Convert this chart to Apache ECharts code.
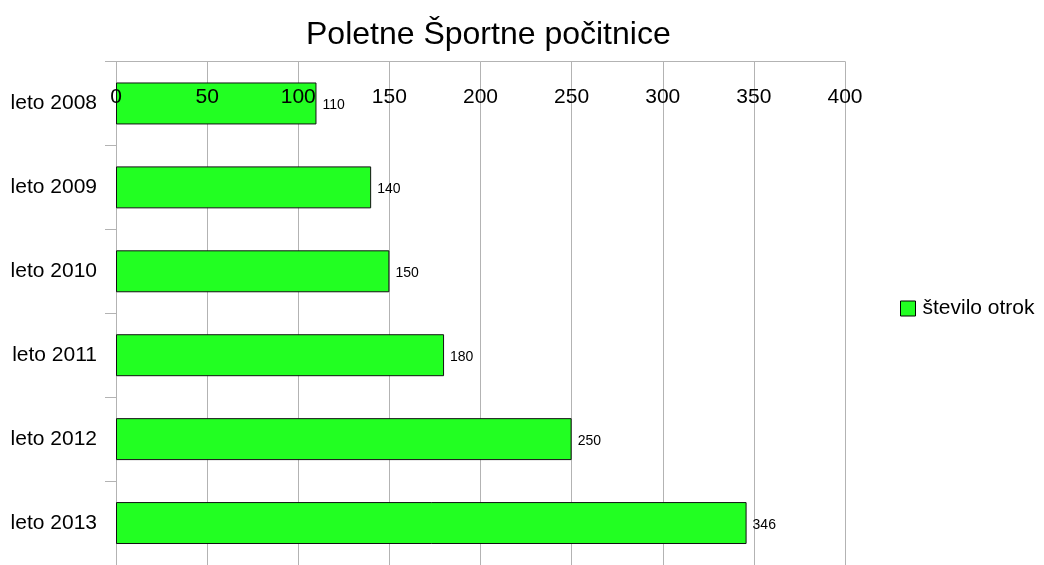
<!DOCTYPE html>
<html><head><meta charset="utf-8">
<script src="https://cdn.jsdelivr.net/npm/echarts@6/dist/echarts.min.js"></script>
<style>html,body{margin:0;padding:0;background:#fff}#c{width:1044px;height:565px}</style>
</head><body><div id="c"></div>
<script>
const categories = ['leto 2008','leto 2009','leto 2010','leto 2011','leto 2012','leto 2013'];
const values = [110, 140, 150, 180, 250, 346];
const seriesName = 'število otrok';
const titleText = 'Poletne Športne počitnice';

const FONT = '"Liberation Sans", Arial, sans-serif';
const chart = echarts.init(document.getElementById('c'), null, {renderer:'canvas'});
chart.setOption({
  backgroundColor: '#ffffff',
  animation: false,
  textStyle: { fontFamily: FONT },
  title: { text: titleText, left: 306, top: 19, padding: 0,
    textStyle: { fontSize: 32, fontWeight: 'normal', color: '#000', fontFamily: FONT } },
  legend: { orient: 'vertical', left: 900, top: 298, padding: 0, itemWidth: 15, itemHeight: 15, itemGap: 7,
    icon: 'rect', data: [seriesName],
    itemStyle: { borderColor: '#000', borderWidth: 1 },
    textStyle: { fontSize: 21, color: '#000', padding: [0,0,0,2], fontFamily: FONT } },
  grid: { left: 116, right: 199, top: 61.5, bottom: -4.5, containLabel: false },
  xAxis: [
    { type: 'value', position: 'top', min: 0, max: 400, interval: 50, z: 10,
      axisLine: { show: true, lineStyle: { color: '#b3b3b3', width: 1 } },
      axisTick: { show: false },
      splitLine: { show: false },
      axisLabel: { inside: true, margin: 25, fontSize: 21, color: '#000', fontFamily: FONT } },
    { type: 'value', position: 'bottom', min: 0, max: 400, interval: 50,
      axisLine: { show: false }, axisTick: { show: false }, axisLabel: { show: false },
      splitLine: { show: true, lineStyle: { color: '#b3b3b3', width: 1 } } }
  ],
  yAxis: { type: 'category', data: categories, inverse: true,
    axisLine: { show: true, lineStyle: { color: '#b3b3b3', width: 1 } },
    axisTick: { show: true, length: 11, lineStyle: { color: '#b3b3b3' } },
    axisLabel: { margin: 19, fontSize: 21, color: '#000', fontFamily: FONT } },
  series: [{ name: seriesName, type: 'bar', xAxisIndex: 0, data: values, barWidth: '50%',
    itemStyle: { color: '#22ff22', borderColor: '#111', borderWidth: 1 },
    label: { show: true, position: 'right', distance: 6, fontSize: 14, color: '#000', offset: [0, 2], fontFamily: FONT } }]
});
</script></body></html>
